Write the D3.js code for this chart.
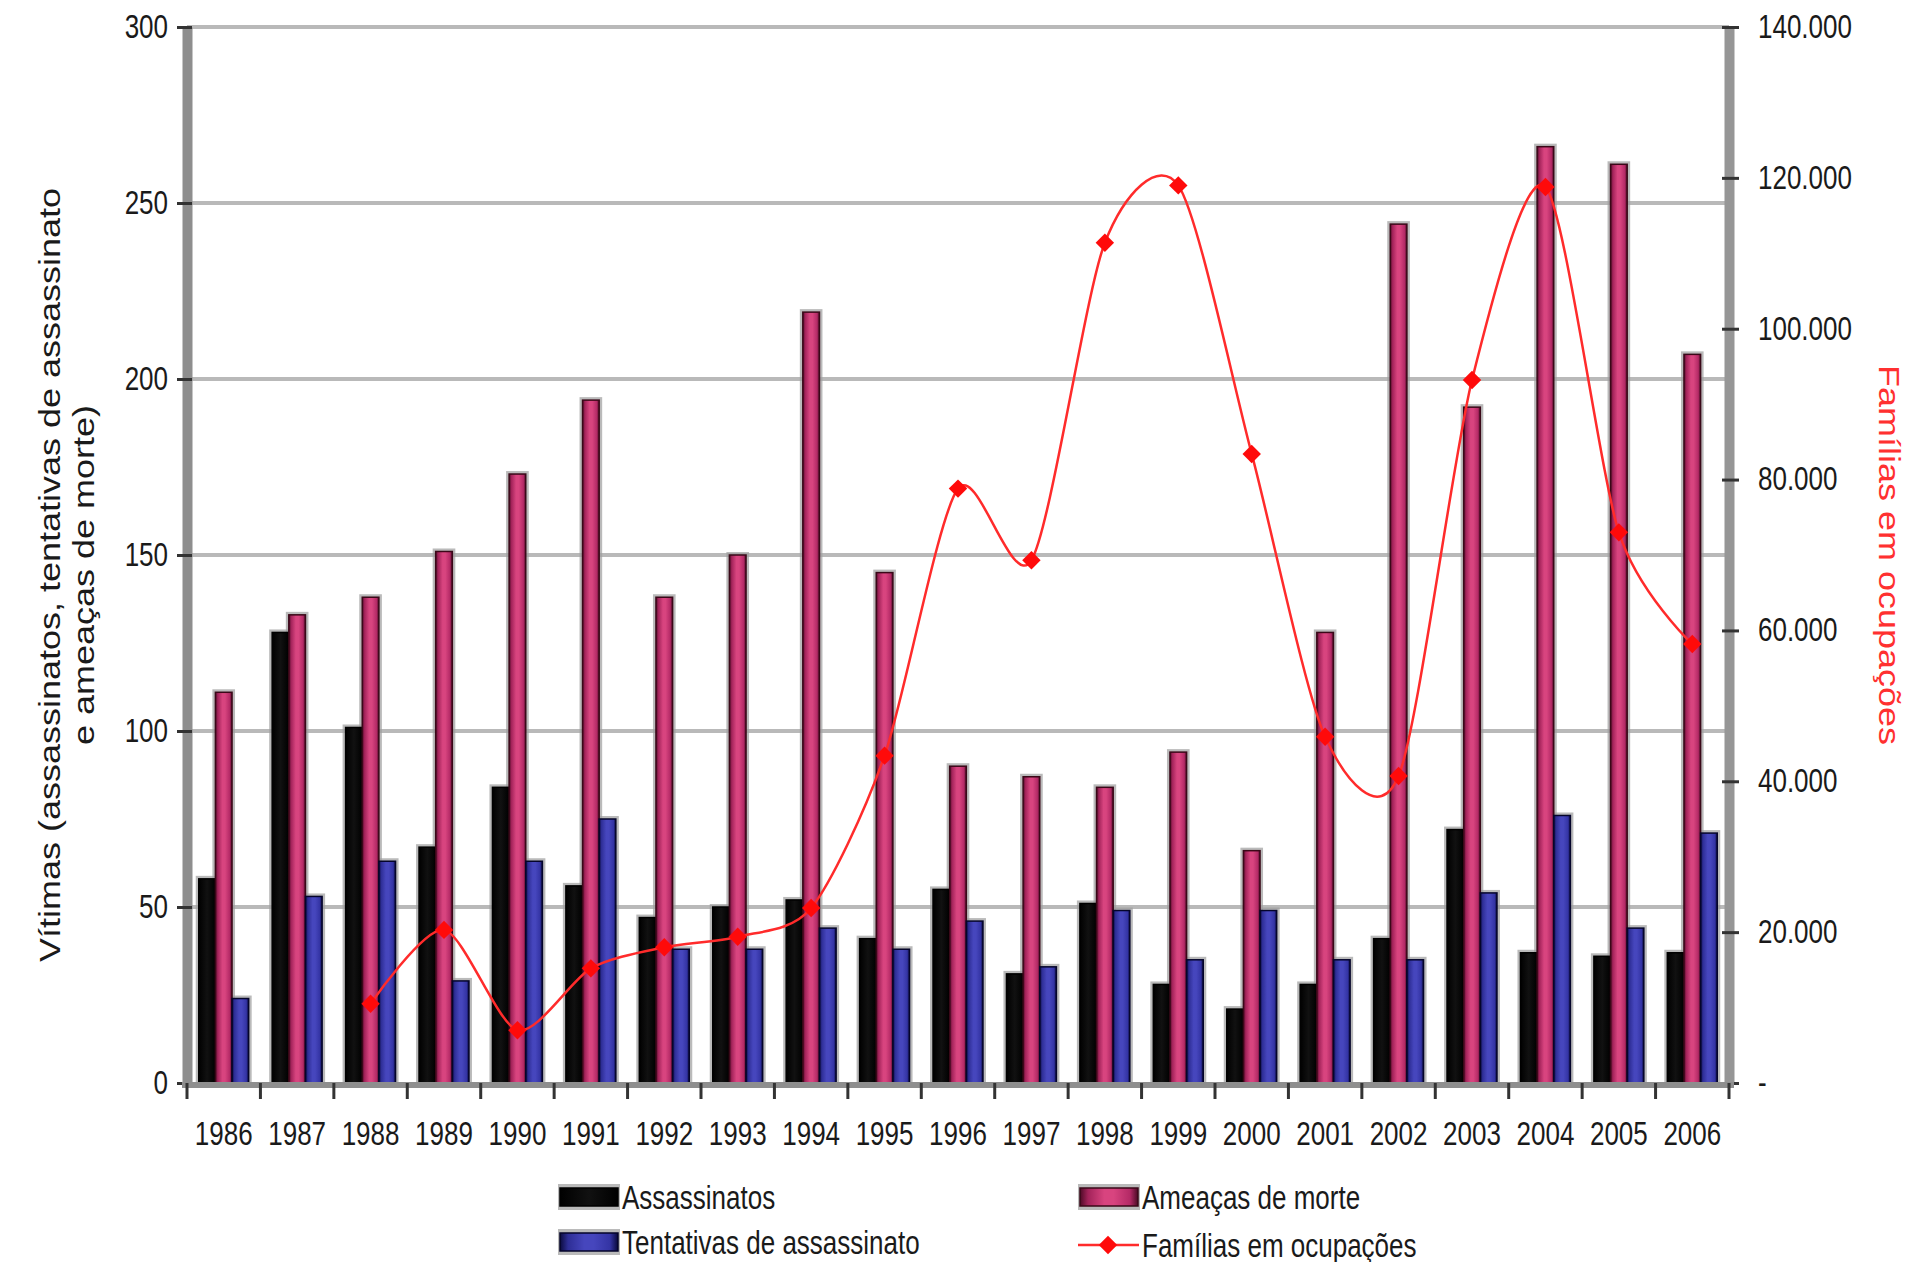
<!DOCTYPE html>
<html>
<head>
<meta charset="utf-8">
<script src="https://cdn.jsdelivr.net/npm/d3@7"></script>
<style>
  body { margin: 0; background: #fff; }
  svg { display: block; font-family: "Liberation Sans", Arial, sans-serif; }
</style>
</head>
<body>
<div id="chart"></div>
<script>
// ---- data ----
const years = ["1986", "1987", "1988", "1989", "1990", "1991", "1992", "1993", "1994", "1995", "1996",
               "1997", "1998", "1999", "2000", "2001", "2002", "2003", "2004", "2005", "2006"];
const assassinatos = [58, 128, 101, 67, 84, 56, 47, 50, 52, 41, 55, 31, 51, 28, 21, 28, 41, 72, 37, 36, 37];
const ameacas      = [111, 133, 138, 151, 173, 194, 138, 150, 219, 145, 90, 87, 84, 94, 66, 128, 244, 192, 266, 261, 207];
const tentativas   = [24, 53, 63, 29, 63, 75, 38, 38, 44, 38, 46, 33, 49, 35, 49, 35, 35, 54, 76, 44, 71];
const familias     = [null, null, 10500, 20300, 7000, 15200, 18000, 19400, 23200, 43400, 78800, 69300,
                      111400, 119000, 83400, 45900, 40700, 93200, 118800, 73000, 58200];
const leftTicks  = [0, 50, 100, 150, 200, 250, 300];
const rightTicks = [0, 20000, 40000, 60000, 80000, 100000, 120000, 140000];
const leftTitle  = ["Vítimas (assassinatos, tentativas de assassinato", "e ameaças de morte)"];
const rightTitle = "Famílias em ocupações";

const W = 1930, H = 1262;
const plot = { left: 187, right: 1729, top: 27, bottom: 1083 };
const FS = 26, FS_T = 28.8, SY = 1.25;   // source text looks stretched vertically

const svg = d3.select("#chart").append("svg")
    .attr("width", W)
    .attr("height", H);

// gradients for the 3d-ish bars
const defs = svg.append("defs");
function grad(id, stops) {
    const g = defs.append("linearGradient").attr("id", id)
        .attr("x1", "0%").attr("x2", "100%").attr("y1", "0%").attr("y2", "0%");
    stops.forEach(s => g.append("stop").attr("offset", s[0]).attr("stop-color", s[1]));
}
grad("g-mag", [["0%", "#4e0a26"], ["14%", "#a3235a"], ["42%", "#d8447f"], ["58%", "#d8447f"], ["86%", "#b42a66"], ["100%", "#4a0a24"]]);
grad("g-blue", [["0%", "#0b0b3e"], ["14%", "#2e2e96"], ["42%", "#4646bd"], ["58%", "#4646bd"], ["86%", "#3434a4"], ["100%", "#08083a"]]);
grad("g-black", [["0%", "#000"], ["50%", "#111"], ["100%", "#000"]]);

const barSeries = [
    { name: "Assassinatos", values: assassinatos, fill: "url(#g-black)", stroke: "#000" },
    { name: "Ameaças de morte", values: ameacas, fill: "url(#g-mag)", stroke: "#3a0818" },
    { name: "Tentativas de assassinato", values: tentativas, fill: "url(#g-blue)", stroke: "#05052a" }
];

const x = d3.scaleBand().domain(years).range([plot.left, plot.right]);
const xi = d3.scaleBand().domain(barSeries.map(s => s.name))
    .range([x.bandwidth() * 0.16, x.bandwidth() * 0.84]);
const yL = d3.scaleLinear().domain([0, 300]).range([plot.bottom, plot.top]);
const yR = d3.scaleLinear().domain([0, 140000]).range([plot.bottom, plot.top]);

// gridlines
svg.append("g").selectAll("line")
    .data(leftTicks.filter(t => t > 0))
    .enter().append("line")
    .attr("x1", plot.left).attr("x2", plot.right)
    .attr("y1", d => yL(d)).attr("y2", d => yL(d))
    .attr("stroke", "#b9b9b9")
    .attr("stroke-width", 4);

// bars: gray halo first, then the bars
const barData = [];
barSeries.forEach(s => years.forEach((yr, i) => barData.push({ s, yr, v: s.values[i] })));

svg.append("g").selectAll("rect")
    .data(barData)
    .enter().append("rect")
    .attr("x", d => x(d.yr) + xi(d.s.name) - 3)
    .attr("y", d => yL(d.v) - 3)
    .attr("width", xi.bandwidth() + 6)
    .attr("height", d => yL(0) - yL(d.v) + 3)
    .attr("fill", "#9c9c9c")
    .attr("opacity", 0.7);

svg.append("g").selectAll("rect")
    .data(barData)
    .enter().append("rect")
    .attr("x", d => x(d.yr) + xi(d.s.name))
    .attr("y", d => yL(d.v))
    .attr("width", xi.bandwidth())
    .attr("height", d => yL(0) - yL(d.v))
    .attr("fill", d => d.s.fill)
    .attr("stroke", d => d.s.stroke)
    .attr("stroke-width", 1.5);

// axes
const textColor = "#1a1a1a";

const axL = svg.append("g")
    .attr("transform", `translate(${plot.left},0)`)
    .call(d3.axisLeft(yL).tickValues(leftTicks).tickSize(10).tickSizeOuter(0).tickPadding(9));
axL.select(".domain").attr("stroke", "#8e8e8e").attr("stroke-width", 10);
axL.selectAll(".tick line").attr("x1", 5).attr("stroke", "#333").attr("stroke-width", 3);
axL.selectAll(".tick text")
    .attr("font-size", FS).attr("fill", textColor).attr("font-family", null)
    .attr("transform", `scale(1,${SY})`);

const fmtLocale = d3.formatLocale({ decimal: ",", thousands: ".", grouping: [3], currency: ["", ""] });
const fmt = fmtLocale.format(",");
const axR = svg.append("g")
    .attr("transform", `translate(${plot.right},0)`)
    .call(d3.axisRight(yR).tickValues(rightTicks).tickSize(10).tickSizeOuter(0).tickPadding(19)
        .tickFormat(d => d === 0 ? "-" : fmt(d)));
axR.select(".domain").attr("stroke", "#969696").attr("stroke-width", 10);
axR.selectAll(".tick line").attr("x1", -7).attr("stroke", "#333").attr("stroke-width", 3);
axR.selectAll(".tick text")
    .attr("font-size", FS).attr("fill", textColor).attr("font-family", null)
    .attr("transform", `scale(1,${SY})`);

// bottom axis: gray line, ticks at band edges, year labels
svg.append("line")
    .attr("x1", plot.left - 5).attr("x2", plot.right + 5)
    .attr("y1", plot.bottom + 2).attr("y2", plot.bottom + 2)
    .attr("stroke", "#8e8e8e").attr("stroke-width", 6);

svg.append("g").selectAll("line")
    .data(years.concat(["end"]))
    .enter().append("line")
    .attr("x1", d => d === "end" ? plot.right : x(d))
    .attr("x2", d => d === "end" ? plot.right : x(d))
    .attr("y1", plot.bottom).attr("y2", plot.bottom + 16)
    .attr("stroke", "#333").attr("stroke-width", 3);

svg.append("g").selectAll("text")
    .data(years)
    .enter().append("text")
    .attr("transform", d => `translate(${x(d) + x.bandwidth() / 2},1145) scale(1,${SY})`)
    .attr("text-anchor", "middle")
    .attr("font-size", FS)
    .attr("fill", textColor)
    .text(d => d);

// families line (right axis)
const pts = years.map((yr, i) => ({ yr, v: familias[i] })).filter(d => d.v !== null);
svg.append("path")
    .datum(pts)
    .attr("fill", "none")
    .attr("stroke", "#ff2b2b")
    .attr("stroke-width", 2.5)
    .attr("d", d3.line()
        .x(d => x(d.yr) + x.bandwidth() / 2)
        .y(d => yR(d.v))
        .curve(d3.curveCardinal.tension(0.2)));

const marker = d3.symbol().type(d3.symbolSquare).size(170);
svg.append("g").selectAll("path")
    .data(pts)
    .enter().append("path")
    .attr("d", marker)
    .attr("transform", d => `translate(${x(d.yr) + x.bandwidth() / 2},${yR(d.v)}) rotate(45)`)
    .attr("fill", "#ff0a0a");

// axis titles
const lt = svg.append("g").attr("font-size", FS_T).attr("fill", textColor);
lt.selectAll("text")
    .data(leftTitle)
    .enter().append("text")
    .attr("transform", (d, i) => `translate(${i === 0 ? 50 : 84},575) scale(1,${SY}) rotate(-90)`)
    .attr("text-anchor", "middle")
    .attr("dominant-baseline", "central")
    .text(d => d);

svg.append("text")
    .attr("transform", `translate(1889,555) scale(1,${SY}) rotate(90)`)
    .attr("text-anchor", "middle")
    .attr("dominant-baseline", "central")
    .attr("font-size", FS_T)
    .attr("fill", "#ff3030")
    .text(rightTitle);

// legend
const legendItems = [
    { label: "Assassinatos", type: "bar", fill: "url(#g-black)", stroke: "#000", x: 560, y: 1197 },
    { label: "Tentativas de assassinato", type: "bar", fill: "url(#g-blue)", stroke: "#05052a", x: 560, y: 1242 },
    { label: "Ameaças de morte", type: "bar", fill: "url(#g-mag)", stroke: "#3a0818", x: 1080, y: 1197 },
    { label: "Famílias em ocupações", type: "line", x: 1078, y: 1245 }
];
const legend = svg.append("g");
legendItems.forEach(it => {
    const g = legend.append("g").attr("transform", `translate(${it.x},${it.y})`);
    if (it.type === "bar") {
        g.append("rect").attr("x", -2).attr("y", -13).attr("width", 62).attr("height", 26)
            .attr("fill", "#9c9c9c").attr("opacity", 0.7);
        g.append("rect").attr("x", 0).attr("y", -9).attr("width", 58).attr("height", 18)
            .attr("fill", it.fill).attr("stroke", it.stroke).attr("stroke-width", 1.5);
    } else {
        g.append("line").attr("x1", 0).attr("x2", 61).attr("y1", 0).attr("y2", 0)
            .attr("stroke", "#ff2b2b").attr("stroke-width", 2.5);
        g.append("path").attr("d", marker).attr("transform", "translate(30,0) rotate(45)")
            .attr("fill", "#ff0a0a");
    }
    g.append("text")
        .attr("transform", `translate(${it.type === "bar" ? 62 : 64},11.5) scale(1,${SY})`)
        .attr("font-size", FS)
        .attr("fill", textColor)
        .text(it.label);
});
</script>
</body>
</html>
